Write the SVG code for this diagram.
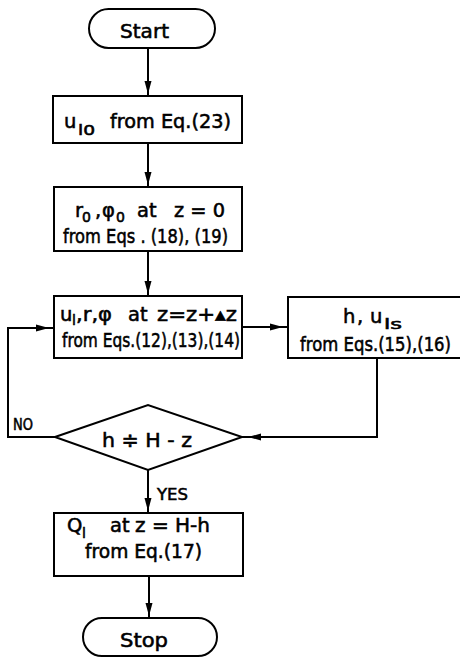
<svg xmlns="http://www.w3.org/2000/svg" width="460" height="659" viewBox="0 0 460 659">
<style>
.box{fill:#fff;stroke:#000;stroke-width:2}
.ln{fill:none;stroke:#000;stroke-width:2}
.ah{fill:#000;stroke:none}
text{font-family:"DejaVu Sans","Liberation Sans",sans-serif;font-size:19.5px;fill:#000;stroke:#000;stroke-width:0.55px}
.sub{font-size:14px}
.lbl{font-size:16px}
</style>
<defs>
<path id="ahd" d="M-3.5,-13 L3.5,-13 L0,0 Z"/>
</defs>
<rect width="460" height="659" fill="#fff"/>
<g id="connectors">
<path class="ln" d="M148,48 V96"/>
<path class="ln" d="M148,143 V187"/>
<path class="ln" d="M148,251 V296"/>
<path class="ln" d="M242,327 H288"/>
<path class="ln" d="M377,358 V437 H242"/>
<path class="ln" d="M55,437 H8 V328 H54"/>
<path class="ln" d="M148,470 V513"/>
<path class="ln" d="M149,576 V618"/>
<use href="#ahd" class="ah" transform="translate(148,94)"/>
<use href="#ahd" class="ah" transform="translate(148,185)"/>
<use href="#ahd" class="ah" transform="translate(148,294)"/>
<use href="#ahd" class="ah" transform="translate(283,327) rotate(-90)"/>
<use href="#ahd" class="ah" transform="translate(248,437) rotate(90)"/>
<use href="#ahd" class="ah" transform="translate(49,328) rotate(-90)"/>
<use href="#ahd" class="ah" transform="translate(148,511)"/>
<use href="#ahd" class="ah" transform="translate(149,616)"/>
<text class="lbl" x="13" y="430" textLength="20" lengthAdjust="spacingAndGlyphs">NO</text>
<text class="lbl" x="157" y="500" textLength="31" lengthAdjust="spacingAndGlyphs">YES</text>
</g>
<g id="start">
<rect class="box" x="89" y="9" width="126" height="39" rx="19.5"/>
<text x="120" y="38" textLength="49" lengthAdjust="spacingAndGlyphs">Start</text>
</g>
<g id="box1">
<rect class="box" x="53" y="96" width="189" height="47"/>
<text x="64" y="128">u</text>
<text class="sub" x="78" y="135" textLength="17" lengthAdjust="spacingAndGlyphs">l0</text>
<text x="110" y="128" textLength="121" lengthAdjust="spacingAndGlyphs">from Eq.(23)</text>
</g>
<g id="box2">
<rect class="box" x="54" y="187" width="188" height="64"/>
<text x="75" y="217">r</text>
<text class="sub" x="82" y="222">0</text>
<text x="95" y="217">,</text>
<text x="102" y="217">φ</text>
<text class="sub" x="116" y="222">0</text>
<text x="137" y="217">at</text>
<text x="174" y="217" textLength="51" lengthAdjust="spacingAndGlyphs">z = 0</text>
<text x="63" y="243" textLength="165" lengthAdjust="spacingAndGlyphs">from Eqs . (18), (19)</text>
</g>
<g id="box3">
<rect class="box" x="54" y="296" width="188" height="62"/>
<text x="60" y="321">u</text>
<text class="sub" x="72" y="325">l</text>
<text x="76" y="321" textLength="36" lengthAdjust="spacingAndGlyphs">,r,φ</text>
<text x="128" y="321">at</text>
<text x="157" y="321" textLength="80" lengthAdjust="spacingAndGlyphs">z=z+▴z</text>
<text x="62" y="347" textLength="178" lengthAdjust="spacingAndGlyphs">from Eqs.(12),(13),(14)</text>
</g>
<g id="box_h">
<rect class="box" x="288" y="297" width="176" height="61"/>
<text x="343" y="323">h</text>
<text x="357" y="323">,</text>
<text x="370" y="323">u</text>
<text class="sub" x="384" y="329" textLength="18" lengthAdjust="spacingAndGlyphs">ls</text>
<text x="300" y="351" textLength="151" lengthAdjust="spacingAndGlyphs">from Eqs.(15),(16)</text>
</g>
<g id="decision">
<path class="box" d="M55,437 L148,405 L242,437 L148,470 Z"/>
<text x="102" y="447" textLength="90" lengthAdjust="spacingAndGlyphs">h ≑ H - z</text>
</g>
<g id="box4">
<rect class="box" x="54" y="513" width="189" height="63"/>
<text x="67" y="532">Q</text>
<text class="sub" x="82" y="538">l</text>
<text x="110" y="532">at</text>
<text x="135" y="532" textLength="75" lengthAdjust="spacingAndGlyphs">z = H-h</text>
<text x="85" y="558" textLength="117" lengthAdjust="spacingAndGlyphs">from Eq.(17)</text>
</g>
<g id="stop">
<rect class="box" x="83" y="618" width="134" height="38" rx="19"/>
<text x="120" y="647" textLength="48" lengthAdjust="spacingAndGlyphs">Stop</text>
</g>
</svg>
